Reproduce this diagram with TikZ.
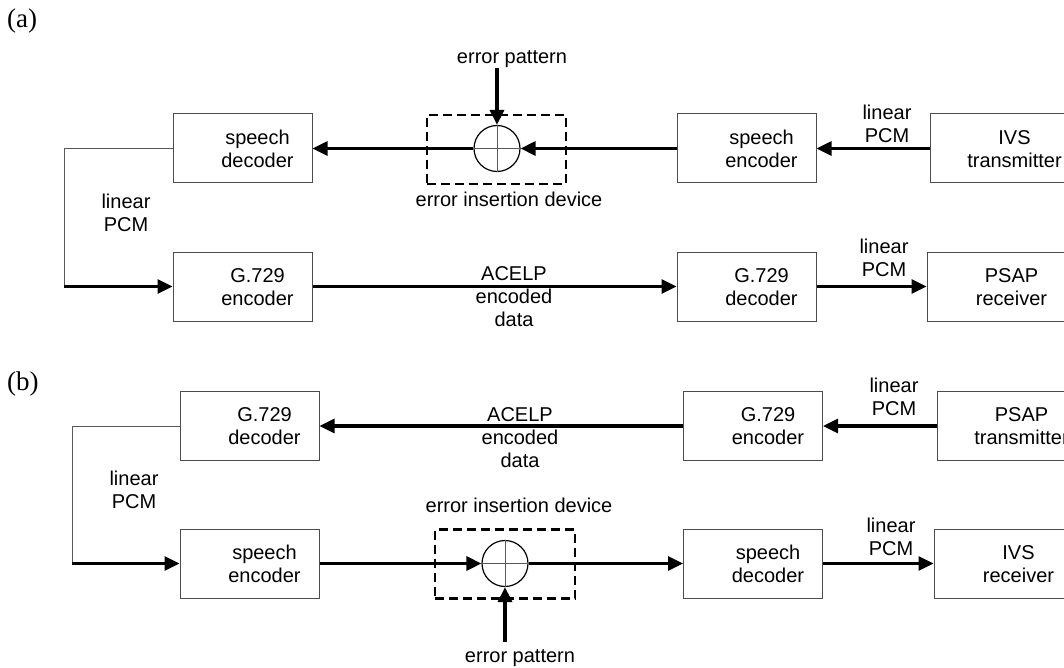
\documentclass[tikz,border=0pt]{standalone}
\usepackage{fontspec}
\setmainfont{Liberation Sans}
\newfontfamily\labelserif{Liberation Serif}
\usetikzlibrary{arrows.meta,calc}
\newcommand{\twol}[2]{\begin{tabular}{@{}c@{}}#1\\#2\end{tabular}}
\newcommand{\threel}[3]{\begin{tabular}{@{}c@{}}#1\\#2\\#3\end{tabular}}
\begin{document}
\begin{tikzpicture}[x=1pt,y=-1pt,
  font=\fontsize{20}{23}\selectfont,
  blk/.style={draw=black!70, line width=1pt, minimum width=139pt, minimum height=69pt, inner sep=0pt},
  txt/.style={inner sep=0pt, outer sep=0pt},
  flow/.style={line width=3.2pt, -{Triangle[length=15pt,width=14pt]}},
  wire/.style={draw=black!65, line width=1pt},
  sum/.style={circle, draw, line width=1.2pt, minimum size=46pt, inner sep=0pt},
  dbox/.style={draw, dash pattern=on 9pt off 5pt, line width=2.8pt, minimum width=139pt, minimum height=69pt, inner sep=0pt},
  tag/.style={font=\fontsize{27}{30}\selectfont\labelserif, anchor=base west, inner sep=0pt}
]
\useasboundingbox (0,0) rectangle (1064,668);
\clip (0,0) rectangle (1064,668);

% ---------------- (a) ----------------
\node[tag] (la) at (7,28) {(a)};
\node[blk] (sda) at (242.5,148.5) {};
\node[txt] (sdat) at ($(sda)+(15,2.5)$) {\twol{speech}{decoder}};
\node[blk] (gea) at (242.5,286.5) {};
\node[txt] (geat) at ($(gea)+(15,2.5)$) {\twol{G.729}{encoder}};
\node[blk] (sea) at (746.5,148.5) {};
\node[txt] (seat) at ($(sea)+(15,2.5)$) {\twol{speech}{encoder}};
\node[blk] (gda) at (746.5,286.5) {};
\node[txt] (gdat) at ($(gda)+(15,2.5)$) {\twol{G.729}{decoder}};
\node[blk] (ivt) at (999.5,148.5) {};
\node[txt] (ivtt) at ($(ivt)+(15,2.5)$) {\twol{IVS}{transmitter}};
\node[blk] (psr) at (996.5,286.5) {};
\node[txt] (psrt) at ($(psr)+(15,2.5)$) {\twol{PSAP}{receiver}};

\node[dbox] (da) at (496.5,149.5) {};
\node[sum] (ca) at (497,148.5) {};
\draw[wire] (ca.north) -- (ca.south) (ca.west) -- (ca.east);
\coordinate (epa) at (497,68);
\node[txt, anchor=base] (epat) at (512,64) {error pattern};
\node[txt, anchor=base] (eidat) at (509,207) {error insertion device};

\node[txt] (pcma1) at (887,126) {\twol{linear}{PCM}};
\node[txt] (pcma2) at (884,260.5) {\twol{linear}{PCM}};
\node[txt] (pcma3) at (126,215) {\twol{linear}{PCM}};
\node[txt] (acelpa) at (514,298.5) {\threel{ACELP}{encoded}{data}};

\draw[flow] (ivt.west) -- (sea.east);
\draw[flow] (sea.west) -- (ca.east);
\draw[flow] (ca.west) -- (sda.east);
\draw[flow] (epa) -- (ca.north);
\coordinate (loopa1) at (64,148.5);
\coordinate (loopa2) at (64,286.5);
\draw[wire] (sda.west) -- (loopa1) -- (loopa2);
\draw[flow] (loopa2) -- (gea.west);
\draw[flow] (gea.east) -- (gda.west);
\draw[flow] (gda.east) -- (psr.west);

% ---------------- (b) ----------------
\node[tag] (lb) at (7,390) {(b)};
\node[blk] (gdb) at (249.5,426) {};
\node[txt] (gdbt) at ($(gdb)+(15,2.5)$) {\twol{G.729}{decoder}};
\node[blk] (seb) at (249.5,563.5) {};
\node[txt] (sebt) at ($(seb)+(15,2.5)$) {\twol{speech}{encoder}};
\node[blk] (geb) at (753,426) {};
\node[txt] (gebt) at ($(geb)+(15,2.5)$) {\twol{G.729}{encoder}};
\node[blk] (sdb) at (753,563.5) {};
\node[txt] (sdbt) at ($(sdb)+(15,2.5)$) {\twol{speech}{decoder}};
\node[blk] (pst) at (1006.5,426) {};
\node[txt] (pstt) at ($(pst)+(15,2.5)$) {\twol{PSAP}{transmitter}};
\node[blk] (ivr) at (1003.5,563.5) {};
\node[txt] (ivrt) at ($(ivr)+(15,2.5)$) {\twol{IVS}{receiver}};

\node[dbox, minimum width=140pt] (db) at (505,564) {};
\node[sum] (cb) at (505,563.5) {};
\draw[wire] (cb.north) -- (cb.south) (cb.west) -- (cb.east);
\coordinate (epb) at (505,642);
\node[txt, anchor=base] (epbt) at (520,662) {error pattern};
\node[txt, anchor=base] (eidbt) at (519,512) {error insertion device};

\node[txt] (pcmb1) at (894,399) {\twol{linear}{PCM}};
\node[txt] (pcmb2) at (891,539) {\twol{linear}{PCM}};
\node[txt] (pcmb3) at (134,492) {\twol{linear}{PCM}};
\node[txt] (acelpb) at (520,439.5) {\threel{ACELP}{encoded}{data}};

\draw[flow] (pst.west) -- (geb.east);
\draw[flow] (geb.west) -- (gdb.east);
\coordinate (loopb1) at (72,426);
\coordinate (loopb2) at (72,563.5);
\draw[wire] (gdb.west) -- (loopb1) -- (loopb2);
\draw[flow] (loopb2) -- (seb.west);
\draw[flow] (seb.east) -- (cb.west);
\draw[flow] (cb.east) -- (sdb.west);
\draw[flow] (epb) -- (cb.south);
\draw[flow] (sdb.east) -- (ivr.west);
\end{tikzpicture}
\end{document}
